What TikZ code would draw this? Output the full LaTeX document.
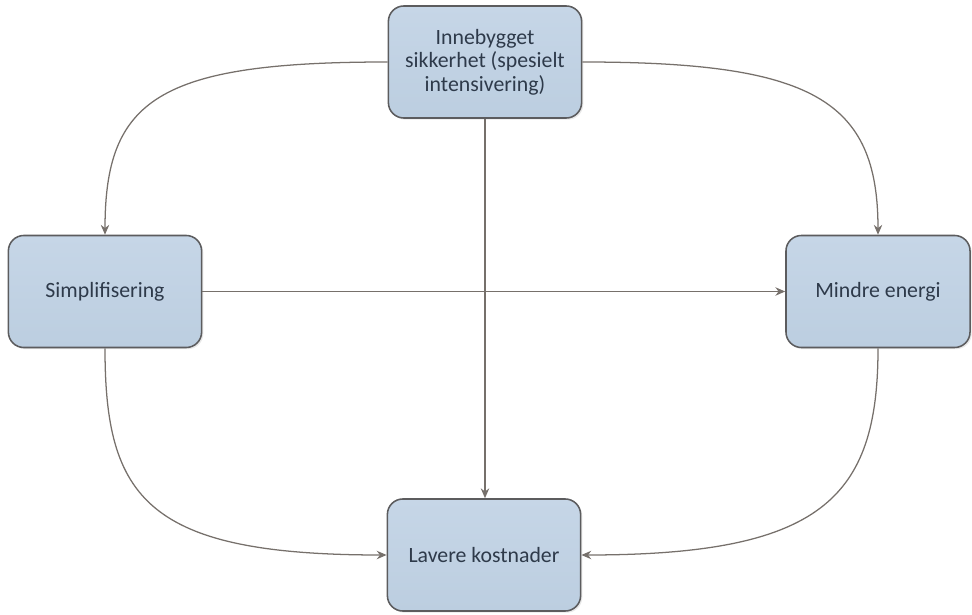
\documentclass[tikz,border=0pt]{standalone}
\usepackage{fontspec}
\setmainfont{Carlito}
\usetikzlibrary{arrows.meta, shadows}

\definecolor{boxfill}{HTML}{BCCEE0}
\definecolor{boxtop}{HTML}{C6D6E7}
\definecolor{boxline}{HTML}{5C5C5E}
\definecolor{linkline}{HTML}{76706B}
\definecolor{boxtext}{HTML}{2E3A4A}

\begin{document}
\begin{tikzpicture}[
    x=0.025cm, y=-0.025cm,
    box/.style={
        draw=boxline,
        line width=1.1pt,
        rounded corners=11pt,
        top color=boxtop,
        bottom color=boxfill,
        minimum width=4.83cm,
        minimum height=2.8cm,
        align=center,
        text=boxtext,
        font=\fontsize{15.5}{16.6}\selectfont,
        drop shadow={opacity=0.18, shadow xshift=1.2pt, shadow yshift=-1.2pt},
    },
    link/.style={
        draw=linkline,
        line width=0.9pt,
        -{Stealth[length=7pt, width=6pt]},
    }
]
    \useasboundingbox (0,0) rectangle (972,615);

    % Boxes
    \node[box] (safety) at (485,62) {Innebygget\\sikkerhet (spesielt\\intensivering)};
    \node[box] (simple) at (105,291.5) {Simplifisering};
    \node[box, minimum width=4.6cm] (energy) at (878,291.5) {Mindre energi};
    \node[box] (cost) at (484,555) {Lavere kostnader};

    % Arrows
    \draw[link] (safety.west) .. controls +(-230,0) and +(0,-135) .. (simple.north);
    \draw[link] (safety.east) .. controls +(230,0) and +(0,-135) .. (energy.north);
    \draw[link] (safety.south) -- (safety.south |- cost.north);
    \draw[link] (simple.east) -- (energy.west);
    \draw[link] (simple.south) .. controls +(0,150) and +(-240,0) .. (cost.west);
    \draw[link] (energy.south) .. controls +(0,150) and +(240,0) .. (cost.east);
\end{tikzpicture}
\end{document}
